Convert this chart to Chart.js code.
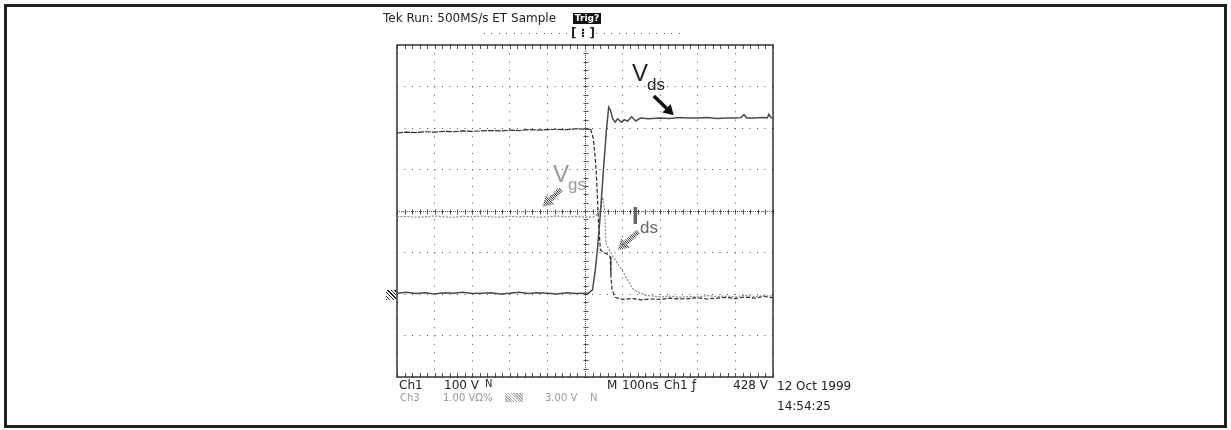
<!DOCTYPE html>
<html>
<head>
<meta charset="utf-8">
<script src="https://cdn.jsdelivr.net/npm/chart.js"></script>
<style>
body { margin: 0; background: #fff; }
#wrap { position: relative; width: 1231px; height: 430px; overflow: hidden; font-family: "DejaVu Sans", sans-serif; }
#frame { position: absolute; left: 4px; top: 4px; width: 1217px; height: 418px; border: 3px solid #222; }
canvas { position: absolute; left: 0; top: 0; }
.t { position: absolute; white-space: nowrap; line-height: 1; }
.lbl { font-family: "Liberation Sans", Arial, sans-serif; }
</style>
</head>
<body>
<div id="wrap">
  <div id="frame"></div>
  <canvas id="scope" width="1231" height="430"></canvas>

  <!-- textos de la pantalla del osciloscopio -->
  <div class="t" style="left:383px;top:12px;font-size:12px;color:#222">Tek Run: 500MS/s ET Sample</div>
  <div class="t" style="left:573px;top:13px;width:28px;height:11px;background:#111;color:#fff;font-size:9px;font-weight:bold;text-align:center;line-height:11px">Trig?</div>
  <div style="position:absolute;left:484px;top:33px;width:196px;height:1px;background:repeating-linear-gradient(to right,#555 0 1px,transparent 1px 7.5px)"></div>
  <div class="t" style="left:571px;top:27px;font-size:12px;font-weight:bold;color:#222;background:#fff">[ ⁝ ]</div>
  <div style="position:absolute;left:386px;top:290px;width:10px;height:10px;background:repeating-linear-gradient(45deg,#222 0 1px,#fff 1px 2.5px)"></div>

  <div class="t lbl" style="left:632px;top:61px;font-size:24px;color:#222">V</div>
  <div class="t lbl" style="left:647px;top:76px;font-size:17px;color:#222">ds</div>
  <div class="t lbl" style="left:553px;top:162px;font-size:24px;color:#9a9a9a">V</div>
  <div class="t lbl" style="left:568px;top:176px;font-size:17px;color:#9a9a9a">gs</div>
  <div class="t lbl" style="left:632px;top:204px;font-size:24px;color:#666;font-weight:bold">I</div>
  <div class="t lbl" style="left:640px;top:219px;font-size:17px;color:#666">ds</div>

  <div class="t" style="left:399px;top:379px;font-size:12px;color:#222">Ch1</div>
  <div class="t" style="left:444px;top:379px;font-size:12px;color:#222">100 V</div>
  <div class="t" style="left:485px;top:379px;font-size:10px;color:#222">N</div>
  <div class="t" style="left:607px;top:379px;font-size:12px;color:#222">M</div>
  <div class="t" style="left:622px;top:379px;font-size:12px;color:#222">100ns</div>
  <div class="t" style="left:664px;top:379px;font-size:12px;color:#222">Ch1</div>
  <div class="t" style="left:692px;top:379px;font-size:12px;color:#222">ƒ</div>
  <div class="t" style="left:733px;top:379px;font-size:12px;color:#222">428 V</div>

  <div class="t" style="left:400px;top:393px;font-size:10px;color:#999">Ch3</div>
  <div class="t" style="left:443px;top:393px;font-size:10px;color:#999">1.00 VΩ%</div>
  <div style="position:absolute;left:505px;top:393px;width:18px;height:9px;background:repeating-linear-gradient(45deg,#aaa 0 1px,#fff 1px 2px)"></div>
  <div class="t" style="left:545px;top:393px;font-size:10px;color:#999">3.00 V</div>
  <div class="t" style="left:590px;top:393px;font-size:10px;color:#999">N</div>

  <div class="t" style="left:777px;top:380px;font-size:12px;color:#222">12 Oct 1999</div>
  <div class="t" style="left:777px;top:400px;font-size:12px;color:#222">14:54:25</div>
</div>

<script>
/* datos: tiempo en ns (100 ns/div), amplitud en divisiones */
const vdsTime = [0,25,50,75,100,125,150,175,200,225,250,275,300,325,350,375,400,425,450,475,500,
  509,520,527,533,541,549,557,563,568,573,580,587,597,605,613,624,635,648,669,
  700,725,750,775,800,825,850,875,900,
  915,923,930,950,975,985,989,995,1000];
const vdsDiv = [-1.98,-1.96,-1.99,-1.97,-2.0,-1.97,-1.98,-1.96,-1.99,-1.98,-1.97,-2.0,-1.98,-1.96,-1.99,-1.97,-1.98,-2.0,-1.97,-1.99,-1.98,
  -1.98,-1.9,-1.45,-0.94,-0.05,0.99,1.95,2.5,2.42,2.24,2.14,2.22,2.14,2.2,2.16,2.27,2.17,2.24,2.22,
  2.24,2.23,2.25,2.24,2.24,2.25,2.23,2.24,2.24,
  2.25,2.32,2.24,2.24,2.25,2.24,2.33,2.25,2.24];

const idsTime = [0,25,50,75,100,125,150,175,200,225,250,275,300,325,350,375,400,425,450,475,500,
  515,522,527,531,536,541,550,562,567,569,572,580,
  600,625,650,675,700,725,750,775,800,825,850,875,900,925,950,975,1000];
const idsDiv = [1.88,1.9,1.89,1.91,1.9,1.92,1.91,1.93,1.92,1.93,1.94,1.93,1.95,1.94,1.96,1.95,1.96,1.97,1.96,1.98,1.97,
  1.97,1.75,1.3,0.75,-0.29,-0.94,-1.0,-1.05,-1.1,-1.6,-1.9,-2.08,
  -2.13,-2.11,-2.14,-2.12,-2.13,-2.1,-2.12,-2.11,-2.09,-2.12,-2.1,-2.08,-2.11,-2.07,-2.1,-2.06,-2.09];

const vgsTime = [0,25,50,75,100,125,150,175,200,225,250,275,300,325,350,375,400,425,450,475,500,525,
  540,547,552,556,575,600,629,660,
  700,725,750,775,800,825,850,875,900,925,950,975,1000];
const vgsDiv = [-0.14,-0.13,-0.15,-0.14,-0.12,-0.14,-0.15,-0.13,-0.14,-0.12,-0.14,-0.15,-0.13,-0.14,-0.13,-0.15,-0.14,-0.12,-0.14,-0.13,-0.15,-0.14,
  0.0,0.33,0.05,-0.8,-1.1,-1.45,-1.9,-2.03,
  -2.07,-2.05,-2.08,-2.06,-2.07,-2.04,-2.06,-2.05,-2.07,-2.03,-2.06,-2.04,-2.05];

/* flechas de las etiquetas, en unidades de los ejes */
const arrows = [
  { kind: 'solid', from: [683, 2.77], to: [736, 2.31] },
  { kind: 'hatch', from: [435, 0.51], to: [387, 0.10] },
  { kind: 'hatch', from: [640, -0.51], to: [587, -0.94] }
];

const toPoints = (t, v) => t.map((x, i) => ({ x: x, y: v[i] }));

/* reticula tipo Tek: lineas centrales densas con marcas, marco y marcas del borde */
const graticule = {
  id: 'graticule',
  beforeDatasetsDraw(chart) {
    const { ctx, chartArea: a, scales: { x, y } } = chart;
    const cx = Math.round(x.getPixelForValue(500)) + 0.5;
    const cy = Math.round(y.getPixelForValue(0)) + 0.5;
    ctx.save();
    ctx.fillStyle = '#555';
    for (let py = a.top; py < a.bottom; py += 2) ctx.fillRect(cx - 0.5, py, 1, 1);
    for (let px = a.left; px < a.right; px += 2) ctx.fillRect(px, cy - 0.5, 1, 1);
    ctx.strokeStyle = '#555';
    ctx.lineWidth = 1;
    ctx.beginPath();
    for (let v = -4; v <= 4.001; v += 0.2) {
      const py = Math.round(y.getPixelForValue(v)) + 0.5;
      ctx.moveTo(cx - 2, py); ctx.lineTo(cx + 3, py);
    }
    for (let t = 0; t <= 1000; t += 20) {
      const px = Math.round(x.getPixelForValue(t)) + 0.5;
      ctx.moveTo(px, cy - 2); ctx.lineTo(px, cy + 3);
      ctx.moveTo(px, a.top); ctx.lineTo(px, a.top + 4);
      ctx.moveTo(px, a.bottom); ctx.lineTo(px, a.bottom - 4);
    }
    ctx.stroke();
    ctx.strokeStyle = '#333';
    ctx.lineWidth = 1.5;
    ctx.strokeRect(a.left, a.top, a.right - a.left, a.bottom - a.top);
    ctx.restore();
  },
  afterDatasetsDraw(chart) {
    const { ctx, scales: { x, y } } = chart;
    ctx.save();
    arrows.forEach(ar => {
      const x1 = x.getPixelForValue(ar.from[0]), y1 = y.getPixelForValue(ar.from[1]);
      const x2 = x.getPixelForValue(ar.to[0]), y2 = y.getPixelForValue(ar.to[1]);
      const len = Math.hypot(x2 - x1, y2 - y1);
      const ux = (x2 - x1) / len, uy = (y2 - y1) / len;
      const nx = -uy, ny = ux;
      if (ar.kind === 'solid') {
        const hb = len - 10;
        ctx.strokeStyle = '#111';
        ctx.fillStyle = '#111';
        ctx.lineWidth = 3.5;
        ctx.beginPath();
        ctx.moveTo(x1, y1);
        ctx.lineTo(x1 + ux * hb, y1 + uy * hb);
        ctx.stroke();
        ctx.beginPath();
        ctx.moveTo(x2, y2);
        ctx.lineTo(x1 + ux * hb + nx * 6, y1 + uy * hb + ny * 6);
        ctx.lineTo(x1 + ux * hb - nx * 6, y1 + uy * hb - ny * 6);
        ctx.closePath();
        ctx.fill();
      } else {
        ctx.strokeStyle = '#222';
        ctx.lineWidth = 1;
        ctx.beginPath();
        for (let s = 0; s <= len; s += 1.7) {
          const w = s < len - 10 ? 2.5 : 6 * (len - s) / 10;
          const px = x1 + ux * s, py = y1 + uy * s;
          ctx.moveTo(px - nx * w, py - ny * w);
          ctx.lineTo(px + nx * w, py + ny * w);
        }
        ctx.stroke();
      }
    });
    ctx.restore();
  }
};

new Chart(document.getElementById('scope'), {
  type: 'line',
  data: {
    datasets: [
      {
        label: 'Vds',
        data: toPoints(vdsTime, vdsDiv),
        borderColor: '#4a4a4a',
        borderWidth: 1.5
      },
      {
        label: 'Ids',
        data: toPoints(idsTime, idsDiv),
        borderColor: '#2a2a2a',
        borderWidth: 1.2,
        segment: { borderDash: c => c.p0.parsed.x >= 515 ? [4, 2] : [6, 1] }
      },
      {
        label: 'Vgs',
        data: toPoints(vgsTime, vgsDiv),
        borderColor: '#8a8a8a',
        borderWidth: 1.2,
        borderDash: [2, 1.5]
      }
    ]
  },
  options: {
    responsive: false,
    animation: false,
    devicePixelRatio: 1,
    layout: { padding: { left: 397, top: 45, right: 458, bottom: 53 } },
    elements: { point: { radius: 0 }, line: { tension: 0, fill: false } },
    plugins: { legend: { display: false }, tooltip: { enabled: false } },
    scales: {
      x: {
        type: 'linear', min: 0, max: 1000,
        ticks: { display: false, stepSize: 100 },
        grid: { color: '#555', lineWidth: 1, drawTicks: false },
        border: { display: false, dash: [1, 7.3] }
      },
      y: {
        type: 'linear', min: -4, max: 4,
        ticks: { display: false, stepSize: 1 },
        grid: { color: '#555', lineWidth: 1, drawTicks: false },
        border: { display: false, dash: [1, 6.5] }
      }
    }
  },
  plugins: [graticule]
});
</script>
</body>
</html>
